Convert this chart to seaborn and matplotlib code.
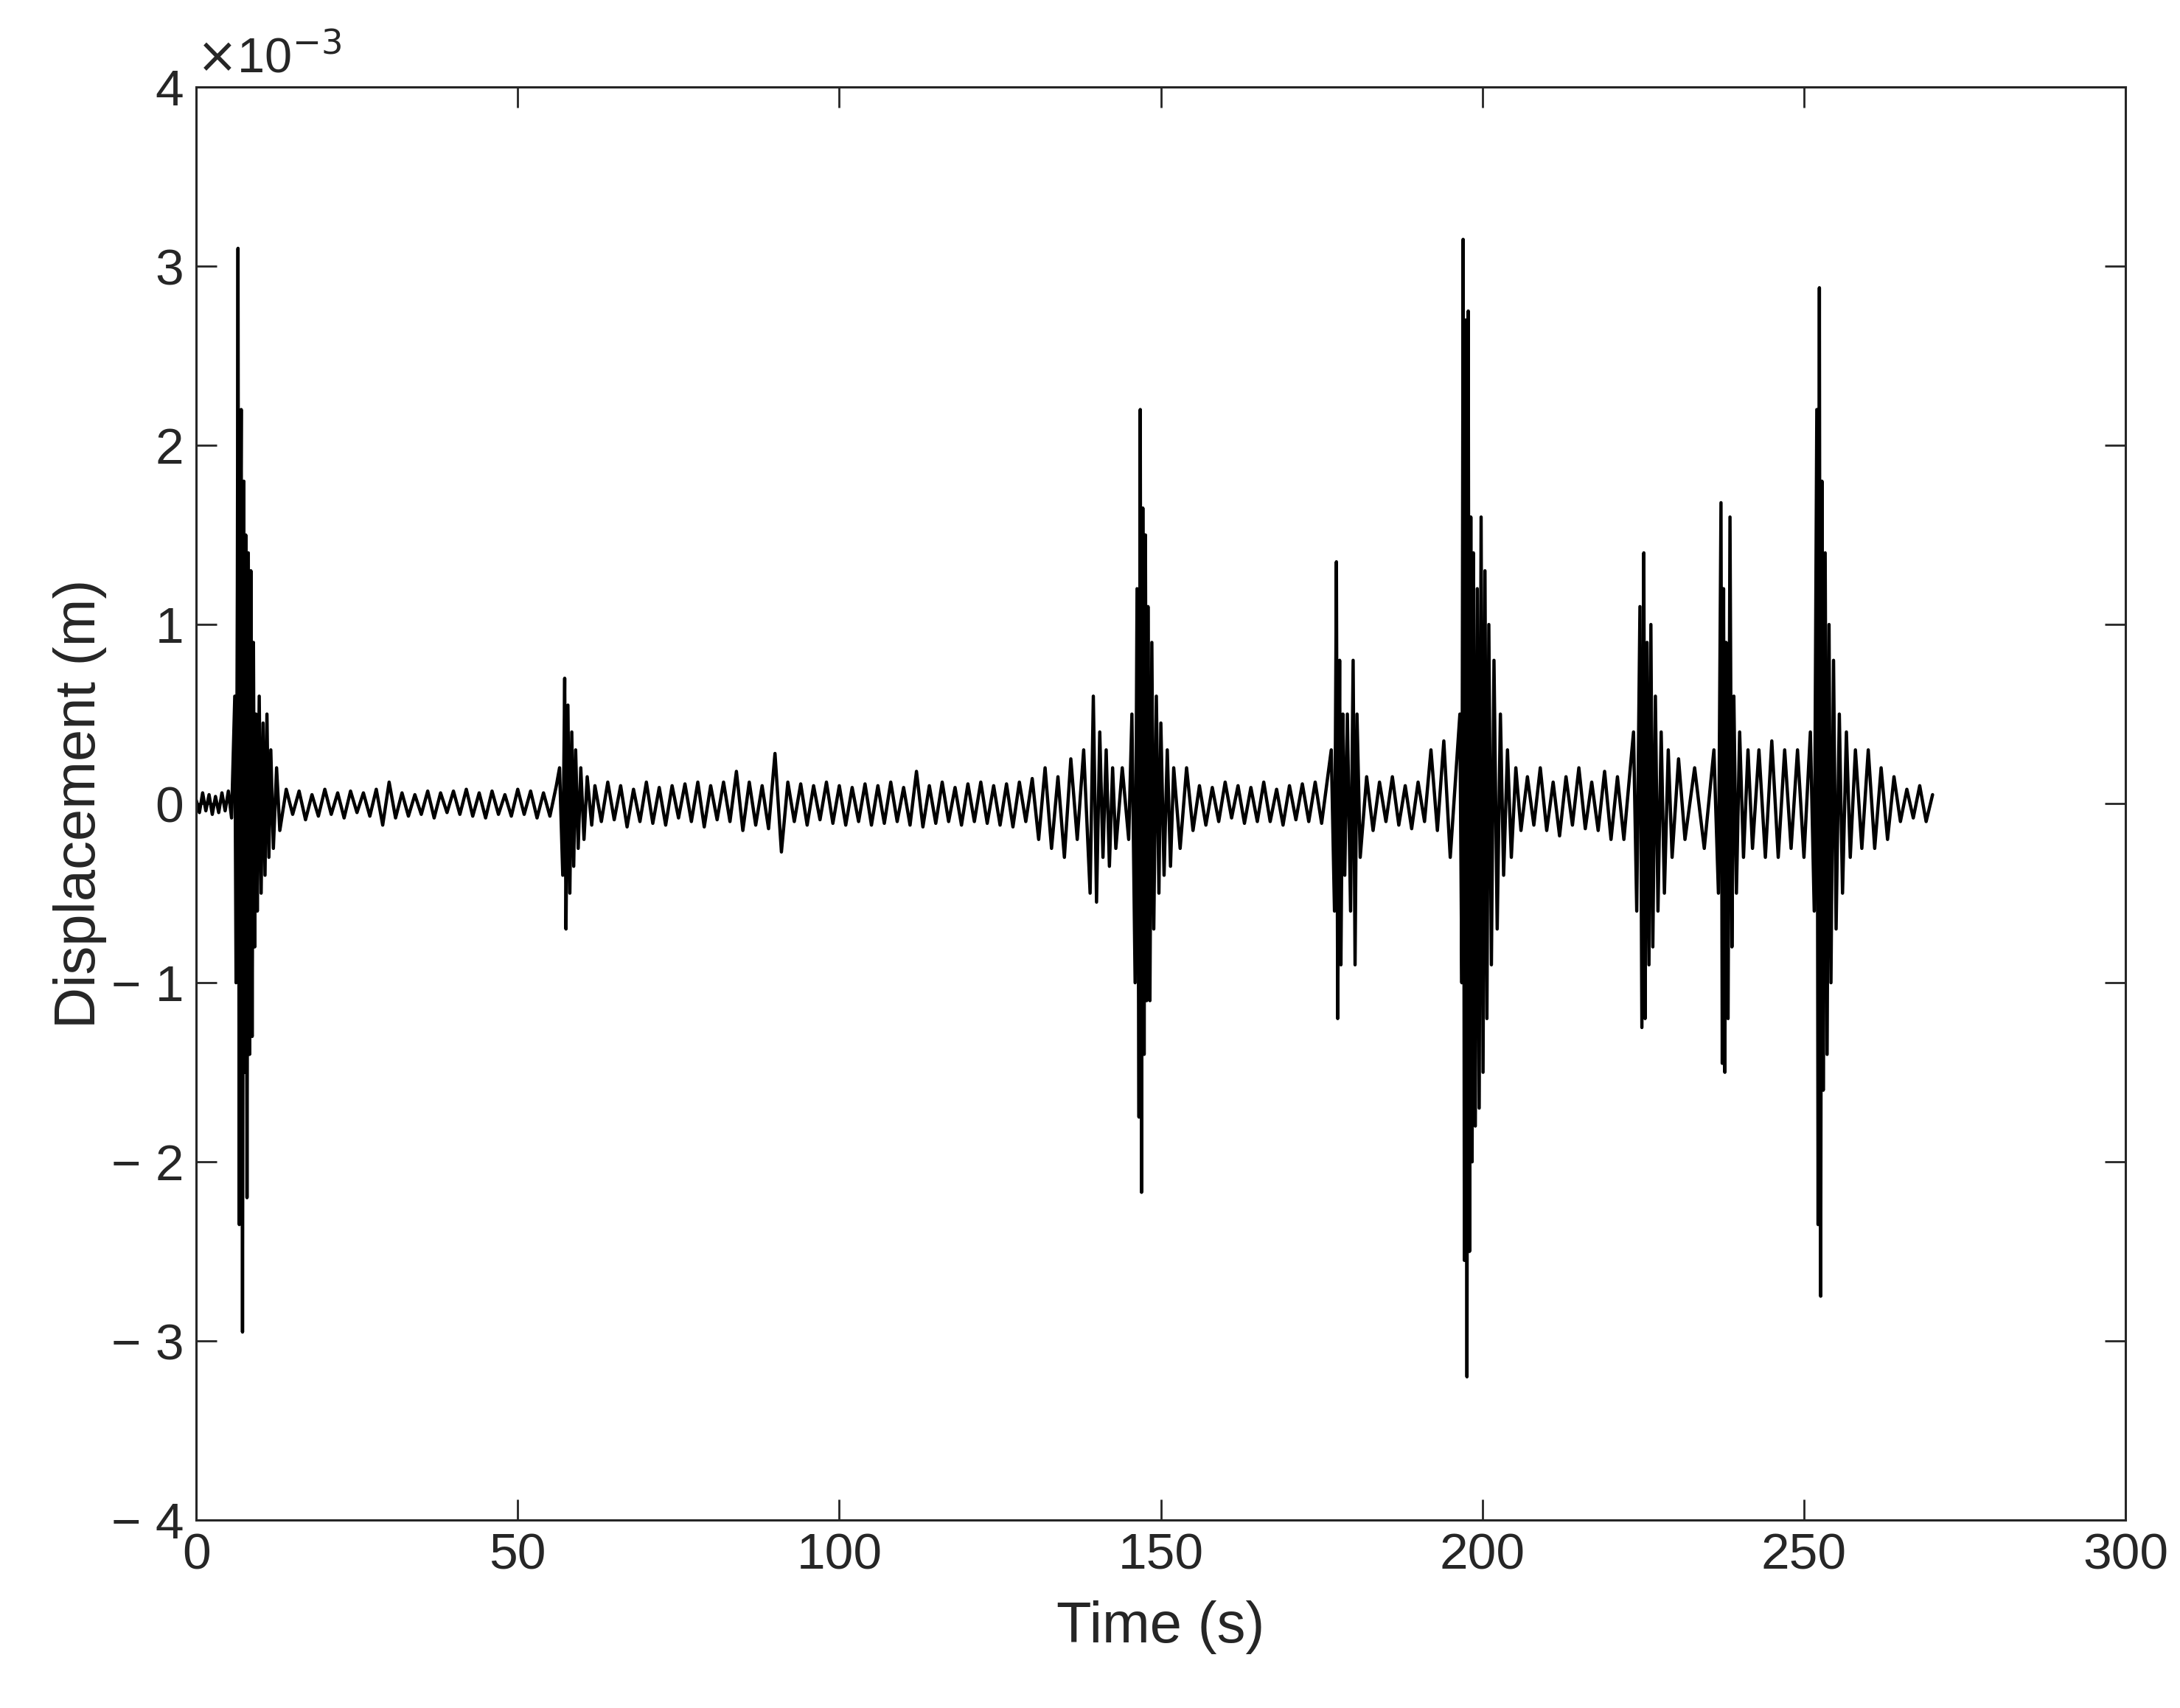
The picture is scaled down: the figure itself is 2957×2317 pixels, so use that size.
import matplotlib
matplotlib.use("Agg")
import matplotlib.pyplot as plt
import seaborn as sns
import pandas as pd

# displacement in units of 1e-3 m (peaks and troughs)
t_start = [0, 0.5, 1, 1.5, 2, 2.5, 3, 3.5, 4, 4.5, 5, 5.5, 6]
d_start = [0.02, -0.05, 0.06, -0.04, 0.05, -0.06, 0.04, -0.05, 0.06, -0.04, 0.07, -0.08, 0.6]

t_b1 = [6.2, 6.4, 6.5, 6.7, 6.9, 7.0, 7.2, 7.4, 7.5, 7.7, 7.9, 8.1, 8.3, 8.5, 8.7, 8.9, 9.1, 9.3, 9.5,
        9.8, 10.1, 10.4, 10.7, 11, 11.3, 11.6, 12, 12.5, 13]
d_b1 = [-1.0, 1.2, 3.1, -2.35, 1.5, 2.2, -2.95, 1.8, -1.5, 1.5, -2.2, 1.4, -1.4, 1.3, -1.3, 0.9, -0.8,
        0.5, -0.6, 0.6, -0.5, 0.45, -0.4, 0.5, -0.3, 0.3, -0.25, 0.2, -0.15]

t_q1 = list(range(14, 57))
d_q1 = [0.08, -0.06, 0.07, -0.09, 0.05, -0.07, 0.08, -0.06, 0.06, -0.08, 0.07, -0.05, 0.06, -0.07, 0.08,
        -0.12, 0.12, -0.08, 0.06, -0.07, 0.05, -0.06, 0.07, -0.08, 0.06, -0.05, 0.07, -0.06, 0.08, -0.07,
        0.06, -0.08, 0.07, -0.06, 0.05, -0.07, 0.08, -0.06, 0.07, -0.08, 0.06, -0.07, 0.1]

t_b2 = [56.5, 57, 57.3, 57.5, 57.8, 58.1, 58.4, 58.7, 59, 59.4, 59.8, 60.3, 60.8, 61.5, 62]
d_b2 = [0.2, -0.4, 0.7, -0.7, 0.55, -0.5, 0.4, -0.35, 0.3, -0.25, 0.2, -0.2, 0.15, -0.12, 0.1]

t_q2 = list(range(63, 132))
d_q2 = [-0.1, 0.12, -0.09, 0.1, -0.13, 0.08, -0.1, 0.12, -0.11, 0.09, -0.12, 0.1, -0.08, 0.11, -0.1,
        0.12, -0.13, 0.1, -0.09, 0.12, -0.1, 0.18, -0.15, 0.12, -0.12, 0.1, -0.14, 0.28, -0.27, 0.12,
        -0.1, 0.11, -0.12, 0.1, -0.09, 0.12, -0.11, 0.1, -0.12, 0.09, -0.1, 0.11, -0.12, 0.1, -0.11,
        0.12, -0.1, 0.09, -0.12, 0.18, -0.13, 0.1, -0.11, 0.12, -0.1, 0.09, -0.12, 0.11, -0.1, 0.12,
        -0.11, 0.1, -0.12, 0.11, -0.13, 0.12, -0.1, 0.14, -0.2]

t_b3 = [132, 133, 134, 135, 136, 137, 138, 139, 139.5, 140, 140.5, 141, 141.5, 142, 142.5, 143, 144, 145,
        145.5, 146, 146.3, 146.6, 146.8, 147, 147.2, 147.4, 147.6, 147.8, 148, 148.3, 148.6, 148.9,
        149.3, 149.7, 150, 150.5, 151, 151.5, 152, 153, 154, 155]
d_b3 = [0.2, -0.25, 0.15, -0.3, 0.25, -0.2, 0.3, -0.5, 0.6, -0.55, 0.4, -0.3, 0.3, -0.35, 0.2, -0.25,
        0.2, -0.2, 0.5, -1.0, 1.2, -1.75, 2.2, -2.17, 1.65, -1.4, 1.5, -1.1, 1.1, -1.1, 0.9, -0.7, 0.6,
        -0.5, 0.45, -0.4, 0.3, -0.35, 0.2, -0.25, 0.2, -0.15]

t_q3 = list(range(156, 176))
d_q3 = [0.1, -0.12, 0.09, -0.1, 0.12, -0.08, 0.1, -0.11, 0.09, -0.1, 0.12, -0.1, 0.08, -0.12, 0.1,
        -0.09, 0.11, -0.1, 0.12, -0.11]

t_b4 = [176.5, 177, 177.3, 177.5, 177.8, 178, 178.3, 178.6, 179, 179.5, 179.9, 180.2, 180.5, 181, 182, 183]
d_b4 = [0.3, -0.6, 1.35, -1.2, 0.8, -0.9, 0.5, -0.4, 0.5, -0.6, 0.8, -0.9, 0.5, -0.3, 0.15, -0.15]

t_q4 = list(range(184, 196))
d_q4 = [0.12, -0.1, 0.15, -0.12, 0.1, -0.14, 0.12, -0.1, 0.3, -0.15, 0.35, -0.3]

t_b5 = [196.5, 196.8, 197, 197.2, 197.4, 197.6, 197.8, 198, 198.2, 198.4, 198.6, 198.9, 199.2, 199.5,
        199.8, 200.1, 200.4, 200.7, 201, 201.4, 201.8, 202.3, 202.8, 203.3, 203.9, 204.5, 205.2, 206]
d_b5 = [0.5, -1.0, 3.15, -2.55, 2.7, -3.2, 2.75, -2.5, 1.6, -2.0, 1.4, -1.8, 1.2, -1.7, 1.6, -1.5, 1.3,
        -1.2, 1.0, -0.9, 0.8, -0.7, 0.5, -0.4, 0.3, -0.3, 0.2, -0.15]

t_q5 = list(range(207, 223))
d_q5 = [0.15, -0.12, 0.2, -0.15, 0.12, -0.18, 0.15, -0.12, 0.2, -0.14, 0.12, -0.15, 0.18, -0.2, 0.15, -0.2]

t_b6 = [223.5, 224, 224.5, 224.8, 225.1, 225.3, 225.6, 225.9, 226.2, 226.5, 226.9, 227.3, 227.8, 228.3,
        228.9, 229.5, 230.5, 231.5, 233, 234.5, 236, 236.7, 237.1, 237.3, 237.5, 237.7, 237.9, 238.2,
        238.5, 238.8, 239.1, 239.5, 240, 240.6, 241.3, 242, 243, 244, 245, 246, 247, 248, 249, 250, 251]
d_b6 = [0.4, -0.6, 1.1, -1.25, 1.4, -1.2, 0.9, -0.9, 1.0, -0.8, 0.6, -0.6, 0.4, -0.5, 0.3, -0.3, 0.25,
        -0.2, 0.2, -0.25, 0.3, -0.5, 1.68, -1.45, 1.2, -1.5, 0.9, -1.2, 1.6, -0.8, 0.6, -0.5, 0.4, -0.3,
        0.3, -0.25, 0.3, -0.3, 0.35, -0.3, 0.3, -0.25, 0.3, -0.3, 0.4]

t_b7 = [251.6, 252, 252.2, 252.4, 252.6, 252.8, 253, 253.3, 253.6, 253.9, 254.2, 254.6, 255, 255.5, 256,
        256.6, 257.2, 258, 259, 260, 261, 262, 263, 264, 265, 266, 267, 268, 269, 270]
d_b7 = [-0.6, 2.2, -2.35, 2.88, -2.75, 1.8, -1.6, 1.4, -1.4, 1.0, -1.0, 0.8, -0.7, 0.5, -0.5, 0.4, -0.3,
        0.3, -0.25, 0.3, -0.25, 0.2, -0.2, 0.15, -0.1, 0.08, -0.08, 0.1, -0.1, 0.05]

time = t_start + t_b1 + t_q1 + t_b2 + t_q2 + t_b3 + t_q3 + t_b4 + t_q4 + t_b5 + t_q5 + t_b6 + t_b7
disp = d_start + d_b1 + d_q1 + d_b2 + d_q2 + d_b3 + d_q3 + d_b4 + d_q4 + d_b5 + d_q5 + d_b6 + d_b7
df = pd.DataFrame({"Time (s)": time, "Displacement (m)": disp})

sns.set_style("white")
plt.rcParams["font.family"] = ["Liberation Sans", "DejaVu Sans"]

fig = plt.figure(figsize=(29.57, 23.17), dpi=100)
ax = fig.add_axes([0.090, 0.110, 0.885, 0.839])
sns.lineplot(data=df, x="Time (s)", y="Displacement (m)", color="black", linewidth=3.2,
             estimator=None, sort=False, ax=ax)

ax.set_xlim(0, 300)
ax.set_ylim(-4, 4)
ax.set_xticks(range(0, 301, 50))
ax.set_yticks(range(-4, 5))
ax.set_yticklabels(["\u2212 4", "\u2212 3", "\u2212 2", "\u2212 1", "0", "1", "2", "3", "4"])
ax.tick_params(direction="in", length=20, width=2, labelsize=50, colors="#262626",
               left=True, bottom=True, top=True, right=True, pad=12)
for s in ax.spines.values():
    s.set_linewidth(2.2)
    s.set_color("#262626")
ax.set_xlabel("Time (s)", fontsize=56, labelpad=20)
ax.set_ylabel("Displacement (m)", fontsize=56, labelpad=4)
ax.text(0.0, 1.003, r"$\times$10$^{-3}$", transform=ax.transAxes, fontsize=48, va="bottom", ha="left")

fig.savefig("out.png", dpi=100, facecolor="white")
